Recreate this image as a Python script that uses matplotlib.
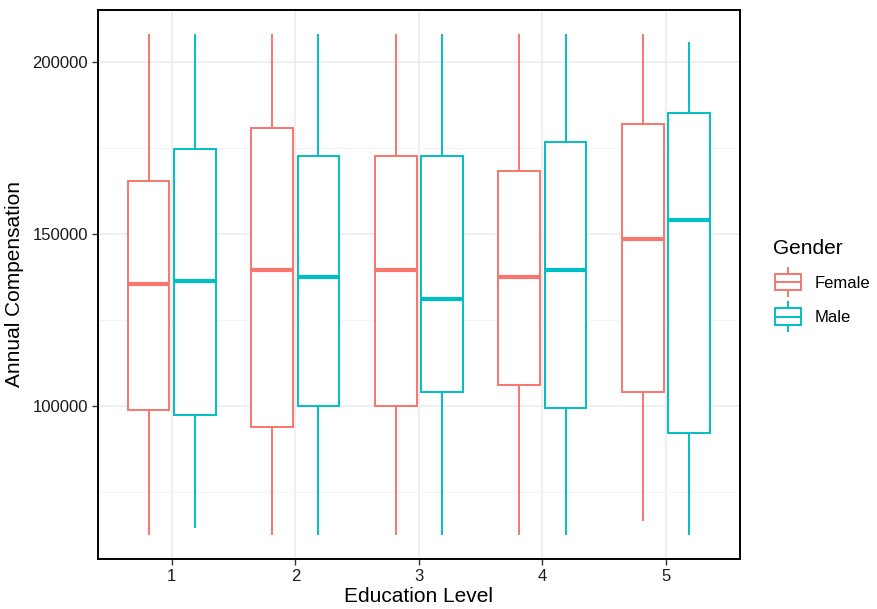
import matplotlib.pyplot as plt
from matplotlib.legend_handler import HandlerBase
from matplotlib.lines import Line2D
from matplotlib.patches import Rectangle

plt.rcParams['font.family'] = ['Liberation Sans', 'DejaVu Sans']

# education levels and gender groups
levels = [1, 2, 3, 4, 5]
genders = ["Female", "Male"]
colors = {"Female": "#F8766D", "Male": "#00BFC4"}

# boxplot stats (per level)
female_low = [62600, 62600, 62600, 62600, 66800]
female_q1 = [98900, 93700, 99900, 106100, 104100]
female_med = [135400, 139500, 139500, 137400, 148700]
female_q3 = [165400, 181000, 172800, 168500, 182000]
female_high = [208000, 208000, 208000, 208000, 208000]

male_low = [64600, 62600, 62600, 62600, 62600]
male_q1 = [97300, 99900, 104100, 99400, 92200]
male_med = [136300, 137400, 131200, 139500, 154000]
male_q3 = [174700, 172800, 172800, 176700, 185100]
male_high = [208000, 208000, 208000, 208000, 205700]

stats = {
    "Female": (female_low, female_q1, female_med, female_q3, female_high),
    "Male": (male_low, male_q1, male_med, male_q3, male_high),
}

fig = plt.figure(figsize=(8.77, 6.09), dpi=100)
ax = fig.add_axes([0.1114, 0.0821, 0.7324, 0.9019])

offsets = {"Female": -0.1875, "Male": 0.1875}
for g in genders:
    lo, q1, med, q3, hi = stats[g]
    bxp_stats = []
    for i in range(len(levels)):
        bxp_stats.append({"whislo": lo[i], "q1": q1[i], "med": med[i],
                          "q3": q3[i], "whishi": hi[i], "fliers": []})
    pos = [l + offsets[g] for l in levels]
    c = colors[g]
    ax.bxp(bxp_stats, positions=pos, widths=0.3375, showcaps=False,
           showfliers=False, patch_artist=True, manage_ticks=False,
           boxprops=dict(facecolor="white", edgecolor=c, linewidth=1.4),
           whiskerprops=dict(color=c, linewidth=1.4),
           medianprops=dict(color=c, linewidth=3.0, solid_capstyle="butt"))

ax.set_xlim(0.4, 5.6)
ax.set_ylim(55400, 215300)
ax.set_xticks(levels)
ax.set_xticklabels([str(l) for l in levels])
ax.set_yticks([100000, 150000, 200000])
ax.set_yticks([75000, 125000, 175000], minor=True)
ax.grid(which="major", color="#EBEBEB", linewidth=1.1)
ax.grid(which="minor", axis="y", color="#F3F3F3", linewidth=0.6)
ax.set_axisbelow(True)
ax.tick_params(which="major", direction="out", length=4, width=1.0,
               color="#333333", labelsize=12, labelcolor="#1a1a1a", pad=3)
ax.tick_params(which="minor", length=0)
for s in ax.spines.values():
    s.set_color("black")
    s.set_linewidth(1.4)

ax.set_xlabel("Education Level", fontsize=15, labelpad=2)
ax.set_ylabel("Annual Compensation", fontsize=15, labelpad=6)


class BoxKey(HandlerBase):
    def create_artists(self, legend, orig_handle, xdescent, ydescent,
                       width, height, fontsize, trans):
        c = orig_handle.get_color()
        cx = width / 2 - xdescent
        h = height
        box = Rectangle((-xdescent + 2, -ydescent + h * 0.1), width - 4, h * 0.8,
                        facecolor="white", edgecolor=c, linewidth=1.4, transform=trans)
        med = Line2D([-xdescent + 2, -xdescent + width - 2],
                     [-ydescent + h / 2] * 2, color=c, linewidth=1.4, transform=trans)
        w1 = Line2D([cx, cx], [-ydescent - h * 0.2, -ydescent + h * 0.1],
                    color=c, linewidth=1.4, transform=trans)
        w2 = Line2D([cx, cx], [-ydescent + h * 0.9, -ydescent + h * 1.2],
                    color=c, linewidth=1.4, transform=trans)
        return [w1, w2, box, med]


handles = [Line2D([], [], color=colors[g]) for g in genders]
leg = fig.legend(handles, genders, title="Gender", loc="upper left",
                 bbox_to_anchor=(0.8733, 0.619), frameon=False, fontsize=12,
                 title_fontsize=15, handler_map={Line2D: BoxKey()},
                 handlelength=1.9, handleheight=1.5, labelspacing=0.85,
                 handletextpad=0.65, borderaxespad=0)
leg._legend_box.align = "left"

fig.savefig("out.png", dpi=100)
